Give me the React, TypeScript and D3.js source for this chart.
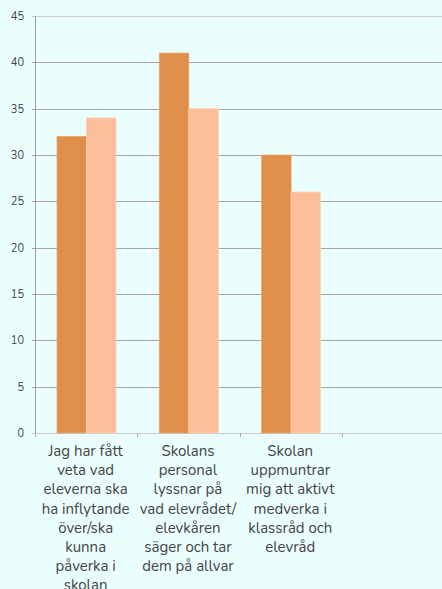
import React from "react";
import * as d3 from "d3";

const categories = ["c1", "c2", "c3", "c4"];
const labels: string[][] = [
  ["Jag har fått", "veta vad", "eleverna ska", "ha inflytande", "över/ska", "kunna", "påverka i", "skolan"],
  ["Skolans", "personal", "lyssnar på", "vad elevrådet/", "elevkåren", "säger och tar", "dem på allvar"],
  ["Skolan", "uppmuntrar", "mig att aktivt", "medverka i", "klassråd och", "elevråd"],
  [],
];
const seriesA: (number | null)[] = [32, 41, 30, null];
const seriesB: (number | null)[] = [34, 35, 26, null];
const yTicks = [0, 5, 10, 15, 20, 25, 30, 35, 40, 45];

const W = 442;
const H = 589;
const BG = "#ebfefe";
const DARK = "#df8f4a";
const LIGHT = "#fcbe98";

export default function App() {
  React.useEffect(() => {
    document.body.style.margin = "0";
    document.body.style.background = BG;
  }, []);

  const left = 35;
  const y = d3.scaleLinear().domain([0, 45]).range([433, 16]);
  const x = d3.scaleBand<string>().domain(categories).range([left, left + 4 * 102.3]).padding(0);
  const inner = d3.scaleBand<string>().domain(["a", "b"]).range([22, 81]).padding(0);
  const font = "Nunito, Lato, 'Noto Sans', sans-serif";

  return (
    <svg width={W} height={H} style={{ display: "block", background: BG }} fontFamily={font}>
      <rect x={0} y={0} width={W} height={H} fill={BG} />
      {yTicks.map((t) => (
        <g key={t}>
          <line
            x1={left - 3}
            x2={W}
            y1={Math.round(y(t)) + 0.5}
            y2={Math.round(y(t)) + 0.5}
            stroke={t === 0 || t === 45 ? "#c8cccc" : "#a8a8a8"}
            strokeWidth={1}
          />
          <text x={24} y={y(t) + 4} textAnchor="end" fontSize={11} fill="#444">
            {t}
          </text>
        </g>
      ))}
      <line x1={left + 0.5} x2={left + 0.5} y1={16} y2={437} stroke="#a0a0a0" />
      {categories.map((c, i) => (
        <line
          key={"t" + c}
          x1={Math.round(x(c)! ) + 0.5}
          x2={Math.round(x(c)!) + 0.5}
          y1={433}
          y2={437}
          stroke="#b0b0b0"
        />
      ))}
      {categories.map((c, i) => (
        <g key={c}>
          {seriesA[i] != null && (
            <rect
              x={x(c)! + inner("a")!}
              y={y(seriesA[i] as number)}
              width={inner.bandwidth()}
              height={y(0) - y(seriesA[i] as number)}
              fill={DARK}
              stroke="#e8a66c"
              strokeWidth={0.8}
            />
          )}
          {seriesB[i] != null && (
            <rect
              x={x(c)! + inner("b")!}
              y={y(seriesB[i] as number)}
              width={inner.bandwidth()}
              height={y(0) - y(seriesB[i] as number)}
              fill={LIGHT}
              stroke="#fdd2b6"
              strokeWidth={0.8}
            />
          )}
          <text textAnchor="middle" fontSize={15} fill="#444">
            {labels[i].map((l, j) => (
              <tspan key={j} x={x(c)! + x.bandwidth() / 2 - 0.5} y={456 + j * 19.2}>
                {l}
              </tspan>
            ))}
          </text>
        </g>
      ))}
    </svg>
  );
}
